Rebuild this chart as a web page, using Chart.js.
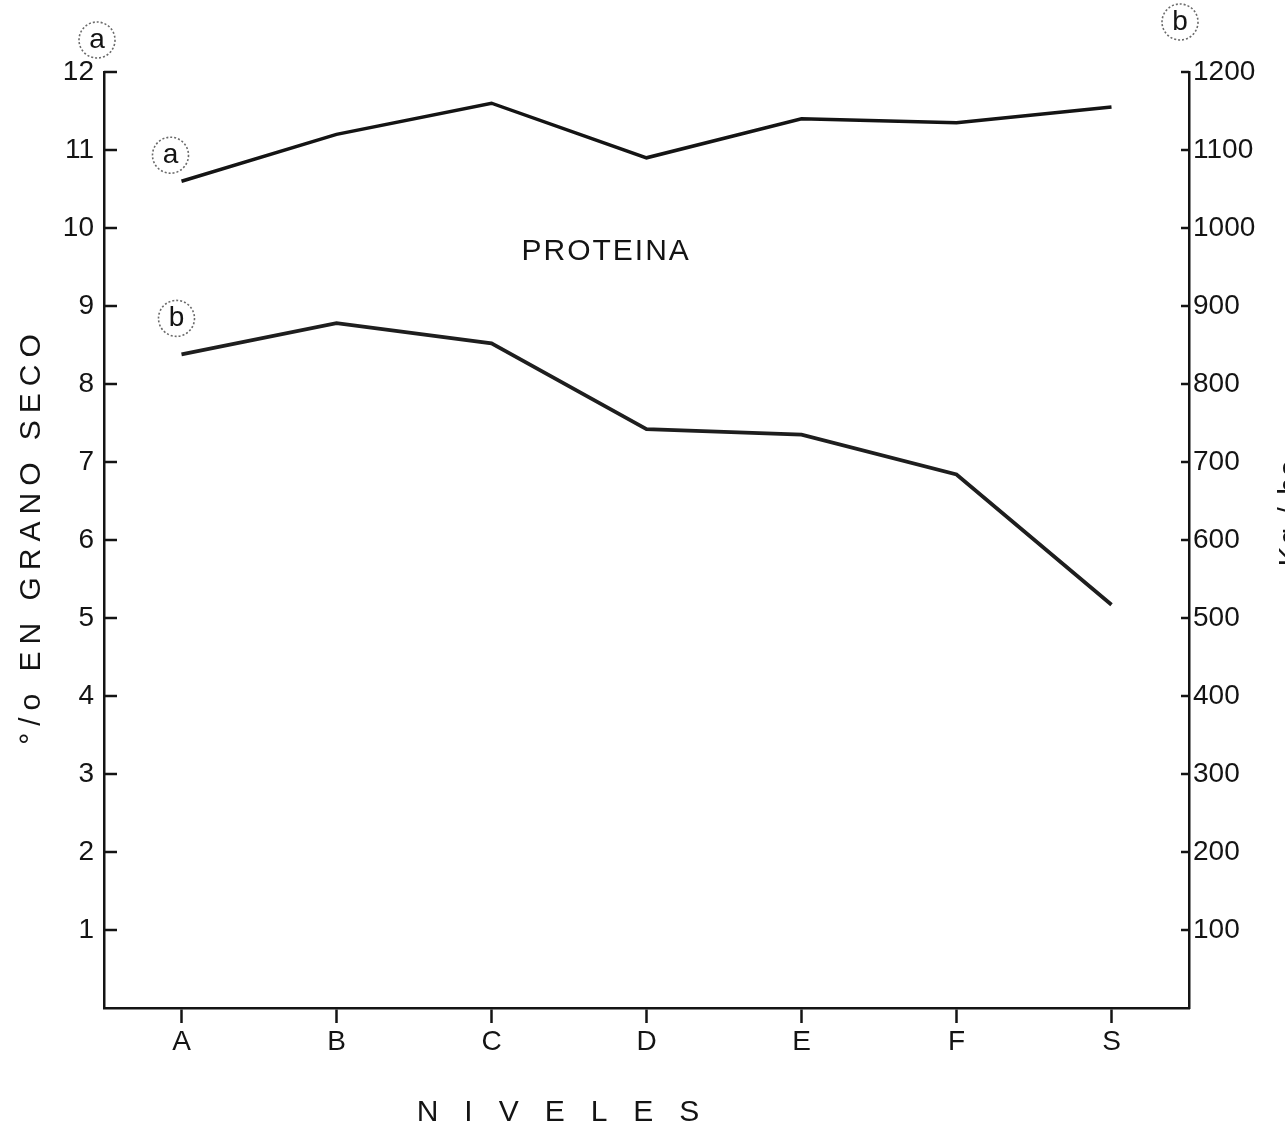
<!DOCTYPE html>
<html>
<head>
<meta charset="utf-8">
<script src="https://cdn.jsdelivr.net/npm/chart.js@4.4.1/dist/chart.umd.min.js"></script>
<style>
  html, body { margin: 0; padding: 0; background: #ffffff; }
  canvas { display: block; }
</style>
</head>
<body>
<canvas id="grafico" width="1285" height="1135"></canvas>
<script>
// Niveles de fertilización (eje X)
const niveles = ['A', 'B', 'C', 'D', 'E', 'F', 'S'];
// (a) proteína, % en grano seco (eje izquierdo)
const proteinaPct = [10.6, 11.2, 11.6, 10.9, 11.4, 11.35, 11.55];
// (b) proteína producida, Kg/ha (eje derecho)
const proteinaKgHa = [838, 878, 852, 742, 735, 684, 517];
// Rangos de los ejes
const pctMax = 12;
const kgMax = 1200;

const FONT = '"Liberation Sans", Arial, sans-serif';
const INK = '#141414';

// Marcas de graduación hacia dentro en los dos ejes verticales
const marcasInternas = {
  id: 'marcasInternas',
  afterDraw(chart) {
    const { ctx, chartArea } = chart;
    const izq = chart.scales.y, der = chart.scales.y1;
    ctx.save();
    ctx.strokeStyle = INK;
    ctx.lineWidth = 2.5;
    izq.ticks.forEach(t => {
      if (t.value <= 0) return;
      const py = izq.getPixelForValue(t.value);
      ctx.beginPath();
      ctx.moveTo(chartArea.left, py);
      ctx.lineTo(chartArea.left + 13, py);
      ctx.stroke();
    });
    der.ticks.forEach(t => {
      if (t.value <= 0) return;
      const py = der.getPixelForValue(t.value);
      ctx.beginPath();
      ctx.moveTo(chartArea.right - 8, py);
      ctx.lineTo(chartArea.right, py);
      ctx.stroke();
    });
    ctx.restore();
  }
};

// Rótulos: títulos de ejes, nombre del gráfico y letras en círculo
const rotulos = {
  id: 'rotulos',
  afterDraw(chart) {
    const { ctx, chartArea } = chart;
    const x = chart.scales.x, y = chart.scales.y, y1 = chart.scales.y1;
    ctx.save();
    ctx.fillStyle = INK;
    ctx.textAlign = 'center';
    ctx.textBaseline = 'middle';

    // PROTEINA
    ctx.font = '30px ' + FONT;
    ctx.letterSpacing = '2px';
    ctx.fillText('PROTEINA', x.getPixelForValue(2.74), y.getPixelForValue(9.7));

    // N I V E L E S
    ctx.letterSpacing = '26px';
    ctx.fillText('NIVELES', 571, 1113);

    // Título eje izquierdo
    ctx.save();
    ctx.translate(32, 536);
    ctx.rotate(-Math.PI / 2);
    ctx.letterSpacing = '7px';
    ctx.fillText('°/o EN GRANO SECO', 0, 0);
    ctx.restore();

    // Título eje derecho (queda en el borde)
    ctx.save();
    ctx.translate(1299, 512);
    ctx.rotate(-Math.PI / 2);
    ctx.textBaseline = 'alphabetic';
    ctx.letterSpacing = '2px';
    ctx.fillText('Kg / ha', 0, 0);
    ctx.restore();

    ctx.letterSpacing = '0px';
    const circulo = (cx, cy, letra) => {
      ctx.save();
      ctx.strokeStyle = '#6a6a6a';
      ctx.lineWidth = 1.6;
      ctx.setLineDash([2, 2]);
      ctx.beginPath();
      ctx.arc(cx, cy, 18, 0, Math.PI * 2);
      ctx.stroke();
      ctx.restore();
      ctx.font = '28px ' + FONT;
      ctx.fillText(letra, cx, cy);
    };
    circulo(chartArea.left - 7, chartArea.top - 32, 'a');
    circulo(chartArea.right - 9, chartArea.top - 50, 'b');
    circulo(x.getPixelForValue(0) - 11, y.getPixelForValue(proteinaPct[0]) - 26, 'a');
    circulo(x.getPixelForValue(0) - 5, y1.getPixelForValue(proteinaKgHa[0]) - 36, 'b');
    ctx.restore();
  }
};

const sinCero = v => (v === 0 ? '' : v);

new Chart(document.getElementById('grafico'), {
  type: 'line',
  data: {
    labels: niveles,
    datasets: [
      {
        label: 'a',
        data: proteinaPct,
        yAxisID: 'y',
        borderColor: INK,
        borderWidth: 3.5,
        pointRadius: 0,
        tension: 0
      },
      {
        label: 'b',
        data: proteinaKgHa,
        yAxisID: 'y1',
        borderColor: '#1e1e1e',
        borderWidth: 3.8,
        pointRadius: 0,
        tension: 0
      }
    ]
  },
  options: {
    responsive: false,
    animation: false,
    layout: { padding: { top: 72, left: 0, right: 0, bottom: 0 } },
    plugins: { legend: { display: false }, tooltip: { enabled: false } },
    scales: {
      x: {
        offset: true,
        grid: {
          display: true,
          drawOnChartArea: false,
          drawTicks: true,
          tickLength: 15,
          tickWidth: 2.5,
          tickColor: INK
        },
        border: { display: true, color: INK, width: 2.5 },
        ticks: { color: INK, font: { family: FONT, size: 28 }, padding: 2, maxRotation: 0 },
        afterFit: s => { s.height = 127; }
      },
      y: {
        position: 'left',
        min: 0,
        max: pctMax,
        grid: { display: true, drawOnChartArea: false, drawTicks: false },
        border: { display: true, color: INK, width: 2.5 },
        ticks: { stepSize: 1, color: INK, padding: 10, font: { family: FONT, size: 28 }, callback: sinCero },
        afterFit: s => { s.width = 104; }
      },
      y1: {
        position: 'right',
        min: 0,
        max: kgMax,
        grid: { display: true, drawOnChartArea: false, drawTicks: false },
        border: { display: true, color: INK, width: 2.5 },
        ticks: { stepSize: 100, color: INK, padding: 4, font: { family: FONT, size: 28 }, callback: sinCero },
        afterFit: s => { s.width = 96; }
      }
    }
  },
  plugins: [marcasInternas, rotulos]
});
</script>
</body>
</html>
